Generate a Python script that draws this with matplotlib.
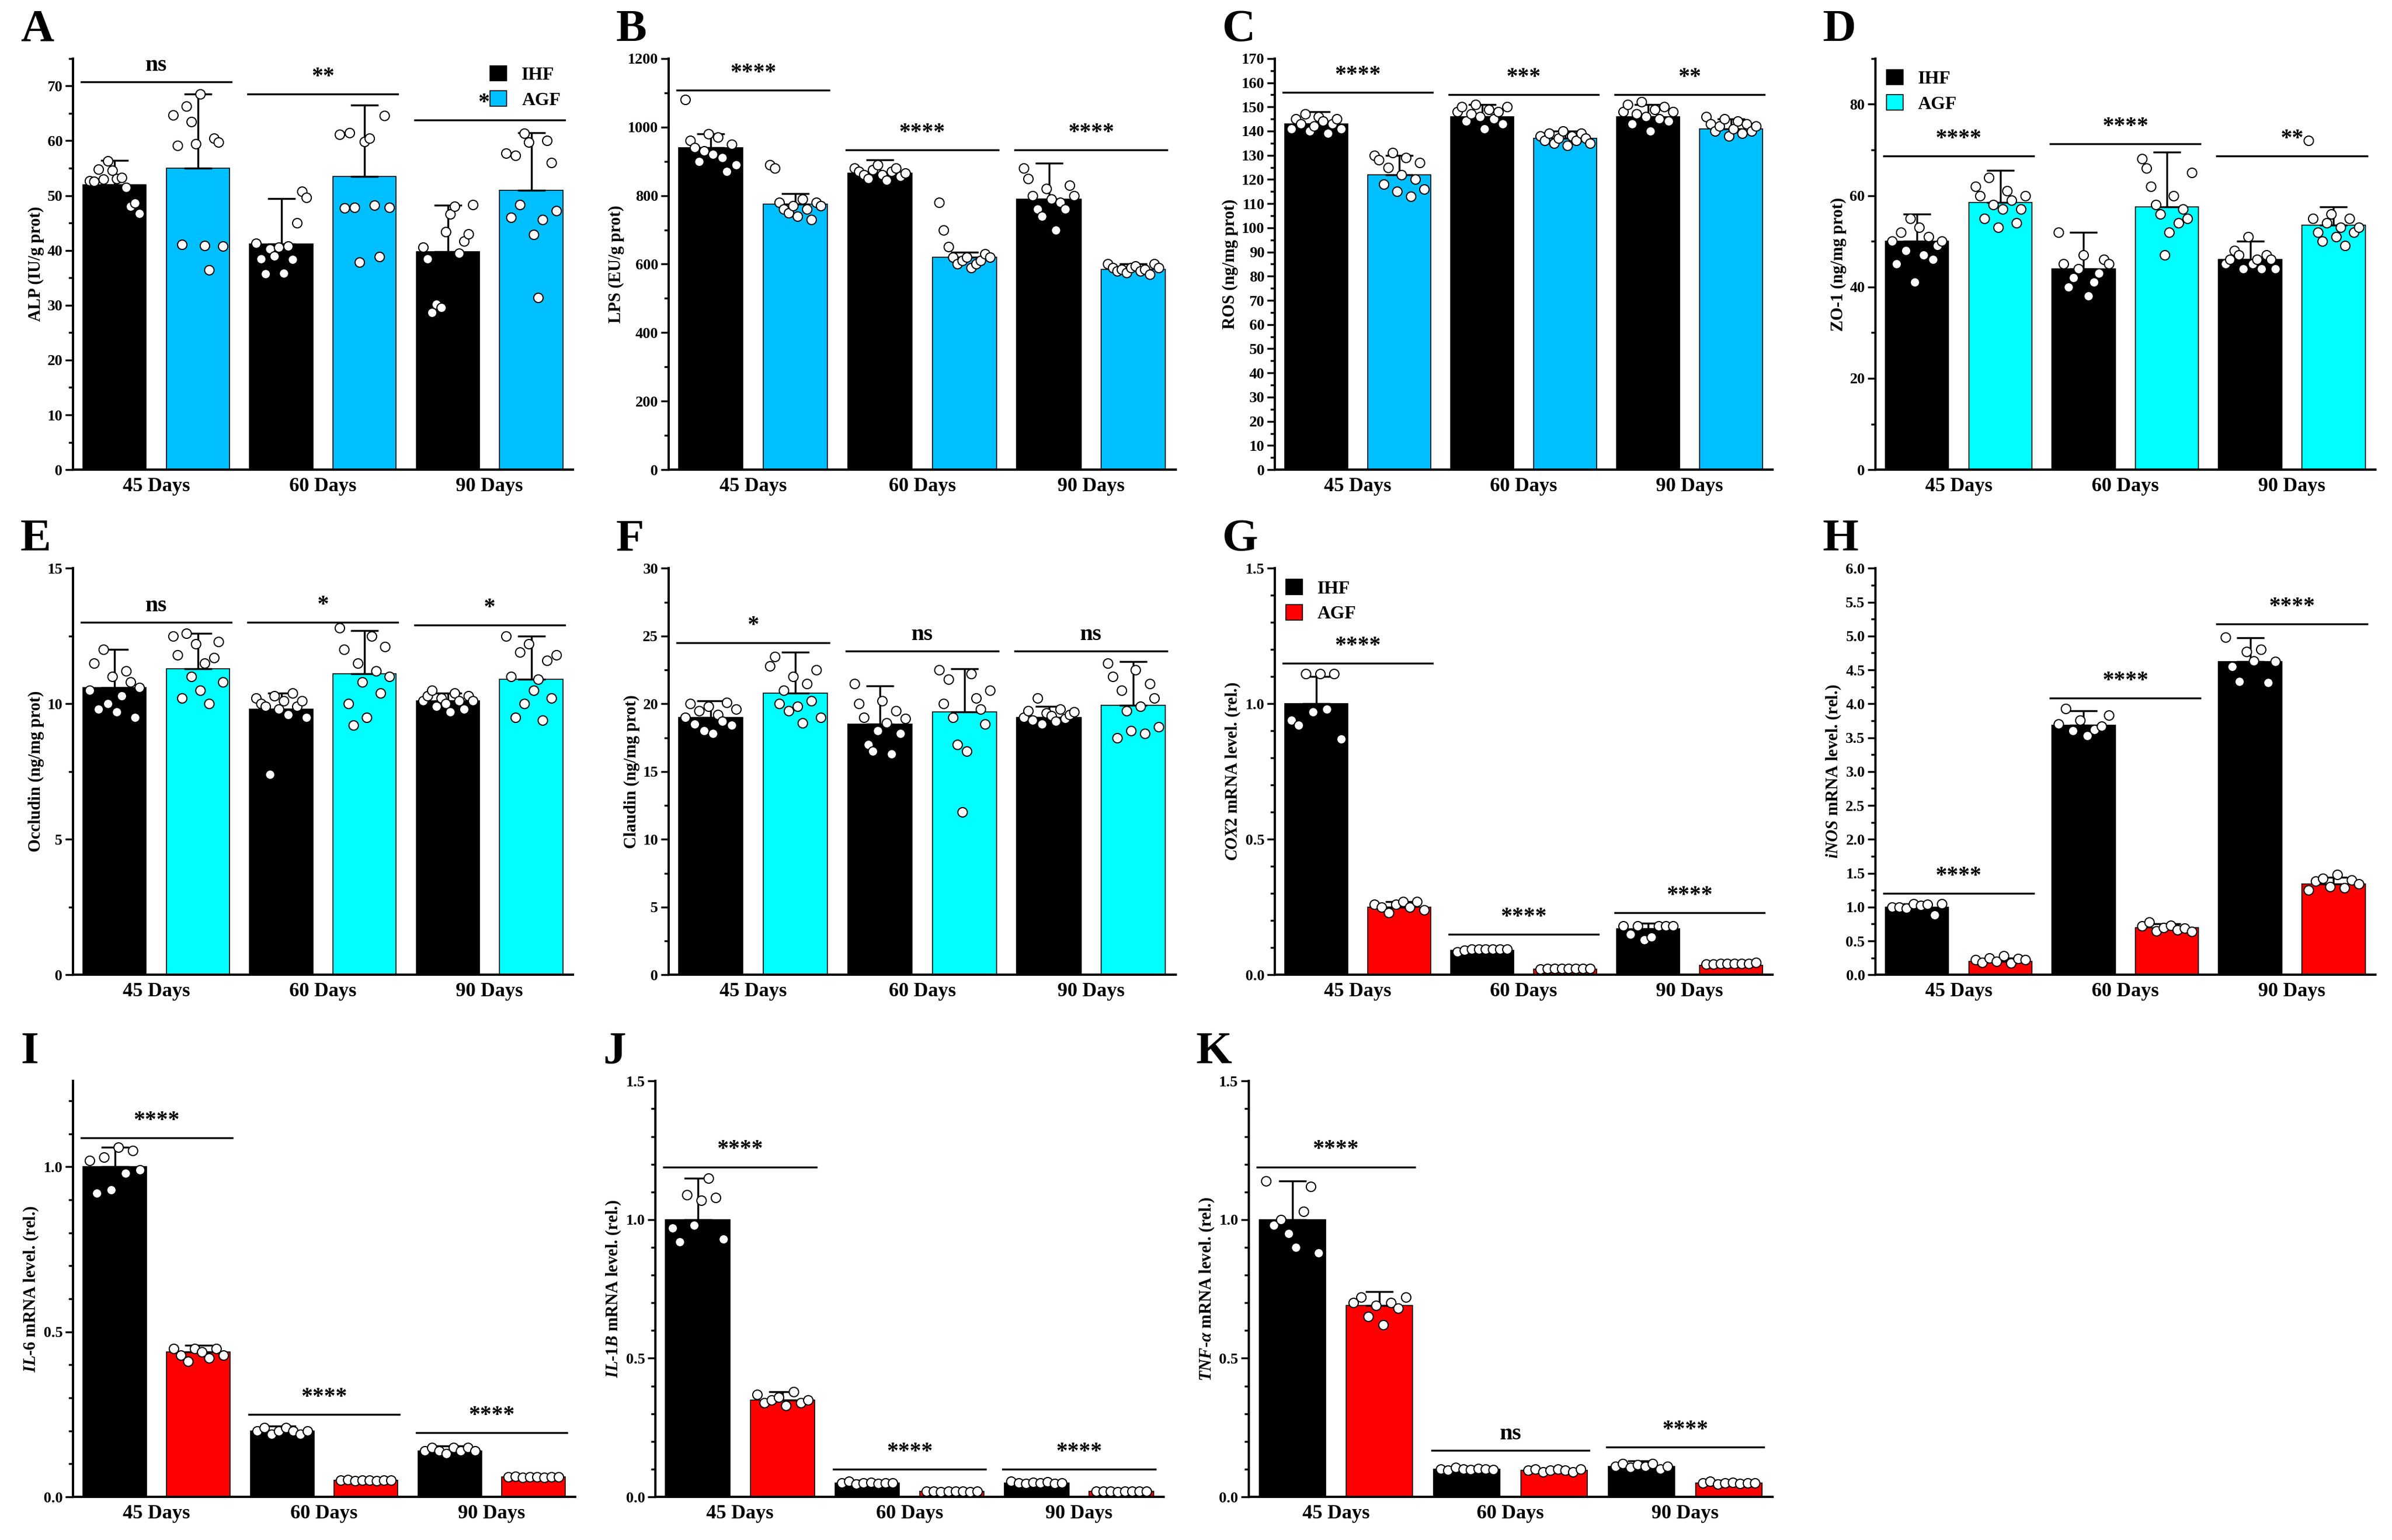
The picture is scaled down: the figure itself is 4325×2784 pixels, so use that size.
import numpy as np
import matplotlib
matplotlib.use("Agg")
import matplotlib.pyplot as plt
from matplotlib.ticker import MultipleLocator

plt.rcParams['font.family'] = 'Liberation Serif'
plt.rcParams['font.weight'] = 'bold'
plt.rcParams['mathtext.fontset'] = 'custom'
plt.rcParams['mathtext.it'] = 'Liberation Serif:italic:bold'
plt.rcParams['mathtext.rm'] = 'Liberation Serif:bold'

groups = ['45 Days', '60 Days', '90 Days']
series = ['IHF', 'AGF']

# ---- data ----
A_ihf = [[52.7, 52.6, 54.8, 53, 56.3, 54.6, 53.1, 53.3, 51.5, 48, 48.6, 46.7],
         [41.3, 38.5, 35.7, 40.3, 39, 40.6, 35.8, 40.8, 38.4, 45, 50.8, 49.7],
         [40.6, 38.5, 28.7, 30.2, 29.6, 43.4, 46.6, 48, 39.5, 41.7, 43, 48.3]]
A_agf = [[64.7, 59.1, 41.1, 66.3, 63.5, 59.4, 68.5, 40.9, 36.4, 60.5, 59.7, 40.8],
         [61.2, 47.7, 61.5, 47.8, 37.8, 59.8, 60.4, 48.2, 38.9, 64.6, 47.8],
         [57.7, 46, 57.3, 48.3, 61.4, 59.7, 42.9, 31.4, 45.6, 60, 56, 47.2]]
A_mean = [[52, 41.2, 39.8], [55, 53.5, 51]]
A_err = [[4.4, 8.3, 8.4], [13.5, 13, 10.5]]

B_ihf = [[1080, 960, 940, 900, 930, 980, 920, 970, 910, 870, 950, 890],
         [880, 870, 860, 850, 875, 890, 860, 845, 870, 880, 855, 865],
         [880, 850, 800, 760, 740, 820, 790, 700, 780, 760, 830, 800]]
B_agf = [[890, 880, 780, 760, 750, 770, 740, 790, 760, 730, 780, 770],
         [780, 700, 650, 620, 600, 610, 620, 590, 600, 610, 630, 620],
         [600, 590, 580, 585, 575, 590, 595, 580, 585, 570, 600, 590]]
B_mean = [[940, 865, 790], [775, 620, 585]]
B_err = [[40, 40, 105], [30, 15, 15]]

C_ihf = [[141, 145, 143, 147, 140, 142, 146, 144, 139, 143, 145, 141],
         [148, 150, 144, 147, 151, 146, 141, 149, 145, 148, 143, 150],
         [148, 151, 143, 147, 152, 146, 140, 149, 145, 150, 144, 148]]
C_agf = [[130, 128, 118, 125, 131, 115, 122, 129, 113, 120, 127, 116],
         [138, 136, 139, 135, 137, 140, 134, 138, 136, 139, 137, 135],
         [146, 143, 140, 142, 145, 138, 141, 144, 139, 143, 140, 142]]
C_mean = [[143, 146, 146], [122, 137, 141]]
C_err = [[5, 5, 5], [8, 3, 4]]

D_ihf = [[50, 45, 52, 48, 55, 41, 53, 47, 51, 46, 49, 50],
         [52, 45, 40, 42, 44, 47, 38, 41, 43, 46, 45],
         [45, 46, 48, 47, 44, 51, 45, 46, 44, 47, 46, 44]]
D_agf = [[62, 60, 55, 64, 58, 53, 57, 61, 59, 54, 57, 60],
         [68, 66, 62, 58, 56, 47, 52, 60, 54, 57, 55, 65],
         [72, 55, 52, 50, 54, 56, 51, 53, 49, 55, 52, 53]]
D_mean = [[50, 44, 46], [58.5, 57.5, 53.5]]
D_err = [[6, 8, 4], [7, 12, 4]]

E_ihf = [[10.5, 11.5, 9.8, 12, 10, 11, 9.7, 10.3, 11.2, 10.8, 9.5, 10.6],
         [10.2, 10, 9.9, 7.4, 10.3, 9.8, 10.1, 9.6, 10.4, 9.9, 10.1, 9.5],
         [10.1, 10.3, 10.5, 9.9, 10.2, 10, 9.7, 10.4, 10.1, 9.8, 10.3, 10.1]]
E_agf = [[12.5, 11.8, 10.2, 12.6, 11, 12.2, 10.5, 11.5, 10, 11.7, 12.3, 10.8],
         [12.8, 12, 10, 9.2, 11.5, 10.8, 9.5, 12.5, 11.2, 10.4, 12.1, 11],
         [12.5, 11, 9.5, 11.9, 10, 12.2, 10.5, 10.9, 9.4, 11.6, 10.2, 11.8]]
E_mean = [[10.6, 9.8, 10.1], [11.3, 11.1, 10.9]]
E_err = [[1.4, 0.6, 0.3], [1.3, 1.6, 1.6]]

F_ihf = [[19, 20, 18.5, 19.5, 18, 19.8, 17.8, 19.2, 18.7, 20.1, 18.4, 19.6],
         [21.5, 20, 19, 17, 16.5, 18, 20.2, 18.6, 16.3, 19.5, 17.8, 18.9],
         [19, 19.5, 18.8, 20.4, 18.5, 19.3, 19.1, 18.7, 19.6, 18.9, 19.2, 19.4]]
F_agf = [[22.8, 23.5, 20, 21, 19.5, 22, 19.8, 18.6, 21.5, 20.2, 22.5, 19],
         [22.5, 20, 21.8, 19, 17, 12, 16.5, 22.2, 20.4, 19.6, 18.5, 21],
         [23, 22, 17.5, 21, 19.5, 18, 22.5, 19.8, 17.8, 21.5, 20.4, 18.3]]
F_mean = [[19, 18.5, 19], [20.8, 19.4, 19.9]]
F_err = [[1.2, 2.8, 0.8], [3, 3.2, 3.2]]

G_ihf = [[0.94, 0.92, 1.11, 0.97, 1.11, 0.98, 1.11, 0.87],
         [0.085, 0.09, 0.095, 0.095, 0.095, 0.095, 0.095, 0.095],
         [0.18, 0.15, 0.18, 0.13, 0.14, 0.18, 0.18, 0.18]]
G_agf = [[0.26, 0.25, 0.23, 0.26, 0.27, 0.25, 0.27, 0.24],
         [0.02, 0.022, 0.022, 0.022, 0.022, 0.022, 0.022, 0.022],
         [0.04, 0.04, 0.042, 0.042, 0.042, 0.042, 0.042, 0.045]]
G_mean = [[1.0, 0.09, 0.17], [0.25, 0.02, 0.035]]
G_err = [[0.1, 0.01, 0.02], [0.02, 0.005, 0.005]]

H_ihf = [[1.0, 1.0, 0.98, 1.05, 1.02, 1.04, 0.88, 1.05],
         [3.7, 3.93, 3.6, 3.76, 3.53, 3.62, 3.67, 3.83],
         [4.98, 4.55, 4.33, 4.77, 4.63, 4.8, 4.31, 4.62]]
H_agf = [[0.22, 0.18, 0.25, 0.2, 0.28, 0.17, 0.24, 0.22],
         [0.72, 0.78, 0.65, 0.7, 0.73, 0.66, 0.69, 0.64],
         [1.25, 1.38, 1.42, 1.3, 1.48, 1.28, 1.4, 1.34]]
H_mean = [[1.0, 3.68, 4.62], [0.2, 0.7, 1.34]]
H_err = [[0.05, 0.22, 0.35], [0.05, 0.05, 0.1]]

I_ihf = [[1.02, 0.92, 1.03, 0.93, 1.06, 0.98, 1.05, 0.99],
         [0.2, 0.21, 0.19, 0.2, 0.21, 0.2, 0.19, 0.2],
         [0.14, 0.15, 0.14, 0.13, 0.15, 0.14, 0.15, 0.14]]
I_agf = [[0.45, 0.43, 0.41, 0.45, 0.44, 0.42, 0.45, 0.43],
         [0.05, 0.052, 0.048, 0.05, 0.051, 0.049, 0.05, 0.05],
         [0.06, 0.062, 0.058, 0.06, 0.061, 0.059, 0.06, 0.06]]
I_mean = [[1.0, 0.2, 0.14], [0.44, 0.05, 0.06]]
I_err = [[0.06, 0.015, 0.015], [0.02, 0.005, 0.005]]

J_ihf = [[0.97, 0.92, 1.09, 0.98, 1.07, 1.15, 1.08, 0.93],
         [0.05, 0.055, 0.045, 0.05, 0.052, 0.048, 0.05, 0.05],
         [0.055, 0.05, 0.048, 0.052, 0.05, 0.053, 0.047, 0.05]]
J_agf = [[0.37, 0.34, 0.35, 0.36, 0.33, 0.38, 0.34, 0.35],
         [0.02, 0.021, 0.019, 0.02, 0.02, 0.021, 0.019, 0.02],
         [0.02, 0.02, 0.021, 0.019, 0.02, 0.02, 0.021, 0.02]]
J_mean = [[1.0, 0.05, 0.05], [0.35, 0.02, 0.02]]
J_err = [[0.15, 0.01, 0.01], [0.03, 0.003, 0.003]]

K_ihf = [[1.14, 0.98, 1.0, 0.95, 0.9, 1.03, 1.12, 0.88],
         [0.1, 0.095, 0.105, 0.1, 0.098, 0.102, 0.1, 0.097],
         [0.11, 0.12, 0.105, 0.115, 0.11, 0.12, 0.1, 0.11]]
K_agf = [[0.7, 0.72, 0.65, 0.69, 0.62, 0.7, 0.68, 0.72],
         [0.095, 0.1, 0.09, 0.095, 0.1, 0.095, 0.09, 0.1],
         [0.05, 0.055, 0.045, 0.05, 0.052, 0.048, 0.05, 0.05]]
K_mean = [[1.0, 0.1, 0.11], [0.69, 0.095, 0.05]]
K_err = [[0.14, 0.01, 0.02], [0.05, 0.005, 0.01]]

# significance: (label, line height) per group
A_sig = [('ns', 70.7), ('**', 68.5), ('**', 63.8)]
B_sig = [('****', 1107), ('****', 933), ('****', 933)]
C_sig = [('****', 156), ('***', 155), ('**', 155)]
D_sig = [('****', 68.7), ('****', 71.3), ('**', 68.7)]
E_sig = [('ns', 13.0), ('*', 13.0), ('*', 12.9)]
F_sig = [('*', 24.5), ('ns', 23.9), ('ns', 23.9)]
G_sig = [('****', 1.15), ('****', 0.15), ('****', 0.23)]
H_sig = [('****', 1.2), ('****', 4.08), ('****', 5.18)]
I_sig = [('****', 1.088), ('****', 0.25), ('****', 0.194)]
J_sig = [('****', 1.19), ('****', 0.1), ('****', 0.1)]
K_sig = [('****', 1.19), ('ns', 0.168), ('****', 0.18)]

BLUE = '#00BFFF'
CYAN = '#00FFFF'
RED = '#FF0000'

W, H = 4325, 2784
fig = plt.figure(figsize=(W / 100, H / 100), dpi=100)


def panel(rect, letter, pts, mean, err, sig, color, ylabel, ylim, major, minor,
          legend=None, fmt='%g'):
    ax = fig.add_axes(rect)
    bw = 0.38
    x = np.arange(3)
    for s, (sp, c, off) in enumerate([(pts[0], 'black', -0.25), (pts[1], color, 0.25)]):
        ax.bar(x + off, mean[s], bw, color=c, edgecolor='black', linewidth=1.2,
               label=series[s], zorder=2)
        ax.errorbar(x + off, mean[s], yerr=[np.zeros(3), err[s]], fmt='none',
                    ecolor='black', elinewidth=2.5, capsize=18, capthick=2.5, zorder=3)
        for g in range(3):
            v = np.array(sp[g])
            jit = np.linspace(-0.15, 0.15, len(v))
            ax.scatter(x[g] + off + jit, v, s=150, facecolor='white',
                       edgecolor='black', linewidth=1.5, zorder=4)
    span = ylim[1] - ylim[0]
    for g, (lab, yy) in enumerate(sig):
        ax.plot([g - 0.45, g + 0.45], [yy, yy], color='black', lw=2.5, zorder=3)
        ax.text(g, yy + span * 0.015, lab, ha='center', va='bottom',
                fontsize=30, fontweight='bold')
    ax.set_xlim(-0.5, 2.5)
    ax.set_ylim(*ylim)
    ax.yaxis.set_major_locator(MultipleLocator(major))
    ax.yaxis.set_minor_locator(MultipleLocator(minor))
    ax.yaxis.set_major_formatter(matplotlib.ticker.FormatStrFormatter(fmt))
    ax.set_xticks(x)
    ax.set_xticklabels(groups, fontsize=26, fontweight='bold')
    ax.tick_params(axis='x', length=0, pad=10)
    ax.tick_params(axis='y', which='major', length=10, width=2.5, labelsize=20)
    ax.tick_params(axis='y', which='minor', length=6, width=2.5)
    for sp_ in ['top', 'right']:
        ax.spines[sp_].set_visible(False)
    for sp_ in ['left', 'bottom']:
        ax.spines[sp_].set_linewidth(3)
    ax.set_ylabel(ylabel, fontsize=22, fontweight='bold')
    fig.text(rect[0] - 0.022, rect[1] + rect[3] + 0.005, letter, fontsize=60,
             fontweight='bold', va='bottom', ha='left')
    if legend:
        ax.legend(loc=legend, frameon=False, fontsize=24, handlelength=0.9,
                  handleheight=0.9, borderaxespad=0.2, labelspacing=0.4)
    return ax


r1b, r1h = 0.695, 0.267
r2b, r2h = 0.367, 0.264
r3b, r3h = 0.028, 0.27

panel([0.0305, r1b, 0.209, r1h], 'A', [A_ihf, A_agf], A_mean, A_err, A_sig, BLUE,
      'ALP (IU/g prot)', (0, 75), 10, 5, legend=(0.82, 0.86))
panel([0.2795, r1b, 0.212, r1h], 'B', [B_ihf, B_agf], B_mean, B_err, B_sig, BLUE,
      'LPS (EU/g prot)', (0, 1200), 200, 100)
panel([0.533, r1b, 0.208, r1h], 'C', [C_ihf, C_agf], C_mean, C_err, C_sig, BLUE,
      'ROS (ng/mg prot)', (0, 170), 10, 5)
panel([0.784, r1b, 0.209, r1h], 'D', [D_ihf, D_agf], D_mean, D_err, D_sig, CYAN,
      'ZO-1 (ng/mg prot)', (0, 90), 20, 10, legend='upper left')

panel([0.0305, r2b, 0.209, r2h], 'E', [E_ihf, E_agf], E_mean, E_err, E_sig, CYAN,
      'Occludin (ng/mg prot)', (0, 15), 5, 2.5)
panel([0.2795, r2b, 0.212, r2h], 'F', [F_ihf, F_agf], F_mean, F_err, F_sig, CYAN,
      'Claudin (ng/mg prot)', (0, 30), 5, 2.5)
panel([0.533, r2b, 0.208, r2h], 'G', [G_ihf, G_agf], G_mean, G_err, G_sig, RED,
      r'$\it{COX2}$ mRNA level. (rel.)', (0, 1.5), 0.5, 0.1, legend='upper left',
      fmt='%.1f')
panel([0.784, r2b, 0.209, r2h], 'H', [H_ihf, H_agf], H_mean, H_err, H_sig, RED,
      r'$\it{iNOS}$ mRNA level. (rel.)', (0, 6), 0.5, 0.25, fmt='%.1f')

panel([0.0305, r3b, 0.21, r3h], 'I', [I_ihf, I_agf], I_mean, I_err, I_sig, RED,
      r'$\it{IL}$-$\it{6}$ mRNA level. (rel.)', (0, 1.26), 0.5, 0.1, fmt='%.1f')
panel([0.274, r3b, 0.2125, r3h], 'J', [J_ihf, J_agf], J_mean, J_err, J_sig, RED,
      r'$\it{IL}$-$\it{1B}$ mRNA level. (rel.)', (0, 1.5), 0.5, 0.1, fmt='%.1f')
panel([0.522, r3b, 0.219, r3h], 'K', [K_ihf, K_agf], K_mean, K_err, K_sig, RED,
      r'$\it{TNF}$-$\it{\alpha}$ mRNA level. (rel.)', (0, 1.5), 0.5, 0.1, fmt='%.1f')

fig.savefig('out.png', dpi=100, facecolor='white')
